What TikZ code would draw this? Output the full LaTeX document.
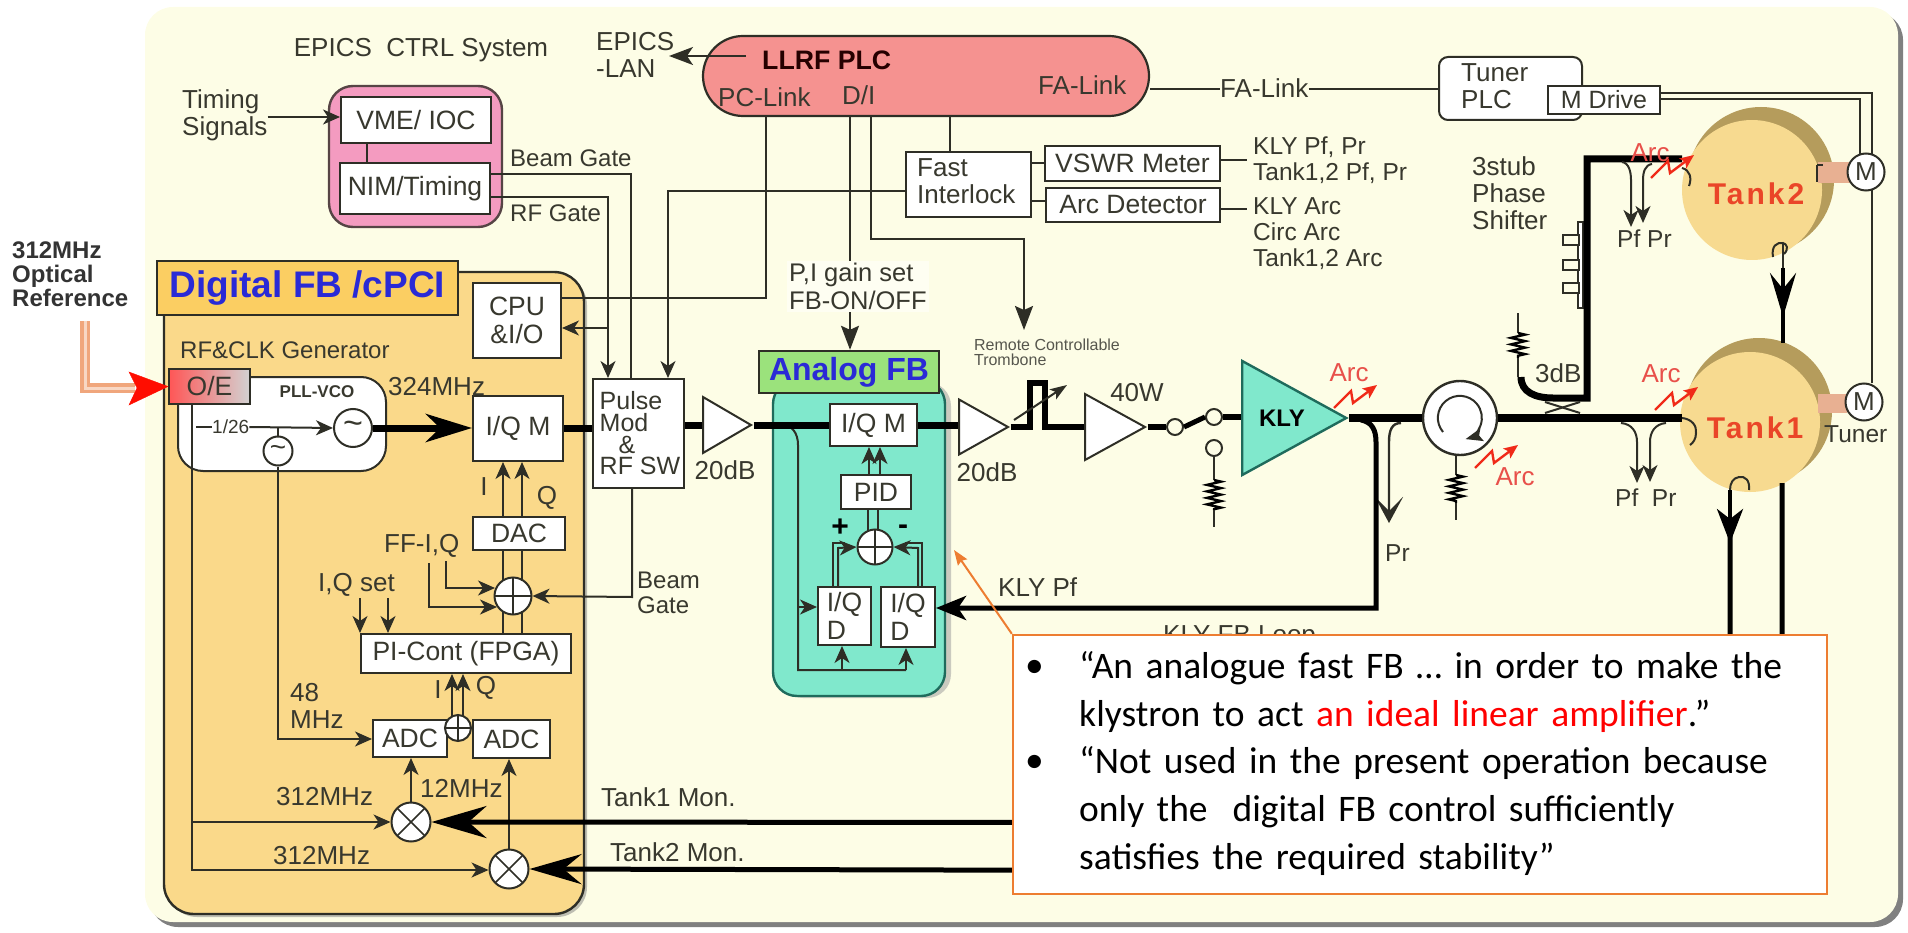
\documentclass[tikz,border=0pt]{standalone}
\usepackage{fontspec}
\setmainfont{Liberation Sans}
\newfontfamily\calloutfont{Carlito}
\newfontfamily\tankfont[LetterSpace=10]{Liberation Sans}
\usetikzlibrary{arrows.meta,decorations.pathmorphing,shapes.geometric,shadows}
\definecolor{panelcol}{HTML}{FDFDE6}
\definecolor{wirecol}{HTML}{2E2E26}
\definecolor{txtcol}{HTML}{38382E}
\definecolor{pinkcol}{HTML}{F49BC0}
\definecolor{plccol}{HTML}{F59290}
\definecolor{digicol}{HTML}{FAD98A}
\definecolor{digitopcol}{HTML}{FBCE62}
\definecolor{analogcol}{HTML}{80E8CC}
\definecolor{greencol}{HTML}{9BE27C}
\definecolor{tealline}{HTML}{1F6B5C}
\definecolor{titleblue}{HTML}{2A2AD6}
\definecolor{tankcol}{HTML}{F7DA90}
\definecolor{tankback}{HTML}{B59C5C}
\definecolor{stubcol}{HTML}{E8B092}
\definecolor{redtxt}{HTML}{E8504A}
\definecolor{tanktxt}{HTML}{EA4528}
\definecolor{boltcol}{HTML}{F02A18}
\definecolor{orangecol}{HTML}{ED7D31}
\definecolor{pipecol}{HTML}{F0A67C}
\tikzset{
  lbl/.style={text=txtcol,inner sep=0pt,font=\fontsize{26}{27}\selectfont,align=left},
  lblsmall/.style={lbl,font=\fontsize{24.5}{26}\selectfont},
  lblred/.style={lbl,text=redtxt},
  blockbox/.style={draw=wirecol,fill=white,line width=2pt,inner sep=0pt,text=txtcol,font=\fontsize{26.5}{28}\selectfont,align=left},
  amp/.style={draw=wirecol,fill=white,line width=2pt,isosceles triangle,isosceles triangle stretches,inner sep=0pt,anchor=west},
  contact/.style={circle,draw=wirecol,fill=panelcol,line width=2pt,minimum size=16pt,inner sep=0pt},
  sumnode/.style={circle,draw=wirecol,fill=white,line width=2pt,inner sep=0pt,minimum size=#1,
    path picture={\draw[wirecol,line width=1.6pt] (path picture bounding box.north)--(path picture bounding box.south) (path picture bounding box.west)--(path picture bounding box.east);}},
  mixnode/.style={circle,draw=wirecol,fill=white,line width=2pt,inner sep=0pt,minimum size=39pt,
    path picture={\draw[wirecol,line width=1.6pt] (path picture bounding box.north west)--(path picture bounding box.south east) (path picture bounding box.south west)--(path picture bounding box.north east);}},
  oscnode/.style={circle,draw=wirecol,fill=white,line width=2pt,inner sep=0pt,minimum size=#1,text=txtcol},
  tankfront/.style={circle,fill=tankcol,minimum size=140pt,inner sep=0pt},
  tankrear/.style={circle,fill=tankback,minimum size=146pt,inner sep=0pt},
  wire/.style={draw=wirecol,line width=2pt},
  wirearrow/.style={wire,-{Stealth[length=17pt,width=15pt,inset=5pt]}},
  feed/.style={draw=black,line width=7pt},
  monfeed/.style={draw=black,line width=5pt},
  bigarrow/.style={-{Stealth[length=#1,width=28pt,inset=14pt]}},
  resist/.style={draw=black,line width=2.4pt,decorate,decoration={zigzag,amplitude=7pt,segment length=6.5pt}},
  boltline/.style={draw=boltcol,line width=2.4pt,-{Stealth[length=14pt,width=12pt,inset=3pt]}}
}
\begin{document}
\begin{tikzpicture}[x=1pt,y=-1pt]
\useasboundingbox (0,0) rectangle (1908,933);
\node[draw=none,fill=panelcol,rounded corners=28pt,minimum width=1753pt,minimum height=915pt,
  drop shadow={shadow xshift=5pt,shadow yshift=-5pt,fill=gray,opacity=1}] (panel) at (1021.5,464.5) {};

\node[lbl] (ctrltitle) at (421,50) {EPICS\ \ CTRL System};
\node[lbl,anchor=west] (timinglbl) at (182,115) {Timing\\Signals};
\node[draw=wirecol!80!pinkcol,fill=pinkcol,line width=2.4pt,rounded corners=24pt,minimum width=173pt,minimum height=141pt] (epicsbox) at (415.5,156.5) {};
\node[blockbox,minimum width=150pt,minimum height=46pt] (vme) at (416,120) {VME/ IOC};
\node[blockbox,minimum width=150pt,minimum height=51pt] (nim) at (415,188.5) {NIM/Timing};
\draw[wire] (367,143) -- (367,163);
\draw[wirearrow] (timinglbl.east |- 0,117) -- (vme.west |- 0,117);
\node[lbl,font=\fontsize{24}{26}\selectfont,anchor=west] (beamlbl) at (510,158) {Beam Gate};
\node[lbl,font=\fontsize{24}{26}\selectfont,anchor=west] (rflbl) at (510,213) {RF Gate};

\node[lbl,anchor=west] (lanlbl) at (596,54.5) {EPICS\\-LAN};
\node[draw=wirecol,fill=plccol,line width=2.2pt,rounded corners=40pt,minimum width=446pt,minimum height=80pt] (plc) at (926,76) {};
\node[lbl,anchor=west,font=\bfseries\fontsize{26.7}{28}\selectfont,text=black!85!red] (plclbl) at (762,60) {LLRF PLC};
\node[lbl,anchor=west] (pclink) at (718,97) {PC-Link};
\node[lbl,anchor=west] (dilbl) at (842,95) {D/I};
\node[lbl,anchor=west] (falink) at (1038,85) {FA-Link};
\coordinate (plcarrow) at (746,56);
\coordinate (lanend) at (669,56);
\draw[wire,-{Stealth[length=24pt,width=18pt,inset=6pt]}] (plcarrow) -- (lanend);

\node[lbl,anchor=west] (falinkout) at (1220,88) {FA-Link};
\node[draw=wirecol,fill=white,line width=2pt,rounded corners=9pt,minimum width=143pt,minimum height=63pt] (tunerplc) at (1510.5,88.5) {};
\node[lbl,anchor=west] (tunerlbl) at (1461,86) {Tuner\\PLC};
\node[blockbox,minimum width=112pt,minimum height=28pt,font=\fontsize{25}{27}\selectfont] (mdrive) at (1604,100) {M Drive};
\draw[wire] (plc.east |- 0,89) -- (falinkout.west |- 0,89);
\draw[wire] (falinkout.east |- 0,89) -- (tunerplc.west |- 0,89);

\node[blockbox,minimum width=125pt,minimum height=65pt] (fast) at (968.5,184.5) {};
\node[lbl,anchor=west] (fastlbl) at (917,181.5) {Fast\\Interlock};
\node[blockbox,minimum width=175pt,minimum height=35pt,align=center] (vswr) at (1132.5,163.5) {VSWR Meter};
\node[blockbox,minimum width=174pt,minimum height=34pt,align=center] (arcdet) at (1133,205) {Arc Detector};
\node[lblsmall,anchor=west] (vswrlbl) at (1253,160) {KLY Pf, Pr\\Tank1,2 Pf, Pr};
\node[lblsmall,anchor=west] (arclbl) at (1253,234) {KLY Arc\\Circ Arc\\Tank1,2 Arc};
\draw[wire] (fast.east |- 0,163) -- (vswr.west |- 0,163);
\draw[wire] (fast.east |- 0,201) -- (arcdet.west |- 0,201);
\draw[wire] (vswr.east |- 0,160) -- (1247,160);
\draw[wire] (arcdet.east |- 0,209) -- (1247,209);
\draw[wire] (950,116) -- (950,152);

\node[lbl,font=\bfseries\fontsize{24}{24}\selectfont,anchor=west,text=black!80] (opticlbl) at (12,274) {312MHz\\Optical\\Reference};
\coordinate (pipetop) at (85,321);
\coordinate (pipeend) at (135,388);
\draw[draw=pipecol,line width=10pt] (pipetop) |- (pipeend);
\draw[draw=pipecol!45!white,line width=3pt] (pipetop) |- (pipeend);

\node[draw=wirecol,fill=digicol,line width=2.4pt,rounded corners=30pt,minimum width=420pt,minimum height=642pt,
  drop shadow={shadow xshift=3pt,shadow yshift=-3pt,fill=gray}] (digibody) at (374,593) {};
\node[draw=wirecol,fill=digitopcol,line width=2.4pt,minimum width=301pt,minimum height=54pt,inner sep=0pt,font=\bfseries\fontsize{37}{38}\selectfont,text=titleblue] (digititle) at (307.5,288) {Digital FB /cPCI};
\node[lbl,font=\fontsize{24}{26}\selectfont,anchor=west] (rfclk) at (180,350) {RF\&CLK Generator};
\node[blockbox,rounded corners=25pt,minimum width=208pt,minimum height=94pt] (pll) at (282,424) {};
\node[draw=wirecol,line width=2pt,left color=red!55!pink,right color=gray!35,minimum width=81pt,minimum height=35pt,inner sep=0pt,text=txtcol,font=\fontsize{26.5}{28}\selectfont] (oe) at (209.5,386.5) {O/E};
\node[lbl,font=\bfseries\fontsize{17}{18}\selectfont] (pllvco) at (317,392) {PLL-VCO};
\node[lbl,font=\fontsize{19}{20}\selectfont,anchor=west] (divlbl) at (212,427) {1/26};
\node[oscnode=38pt,font=\fontsize{34}{34}\selectfont] (vco) at (353,428) {\textasciitilde};
\node[oscnode=29pt,font=\fontsize{28}{28}\selectfont] (refosc) at (278,451) {\textasciitilde};
\node[lbl,anchor=west] (mhz324) at (388,387) {324MHz};
\coordinate (divstart) at (196,427);
\draw[wire] (divstart) -- (divlbl.west);
\draw[wirearrow] (divlbl.east) -- (vco.west);
\draw[wire] (refosc.north) -- (refosc.north |- vco.west);
\draw[draw=red!90!orange,fill=red!90!orange] (129,372) -- (oe.west) -- (129,405) -- (137,388) -- cycle;

\node[blockbox,minimum width=88pt,minimum height=75pt,align=center] (cpu) at (517,320.5) {CPU\\\&I/O};
\node[blockbox,minimum width=90pt,minimum height=65pt] (iqm) at (518,428.5) {I/Q M};
\node[blockbox,minimum width=92pt,minimum height=33pt] (dac) at (519,533.5) {DAC};
\node[sumnode=37pt] (sumiq) at (513,596) {};
\node[blockbox,minimum width=210pt,minimum height=39pt] (picont) at (466,653.5) {PI-Cont (FPGA)};
\node[blockbox,minimum width=74pt,minimum height=37pt] (adca) at (410,738.5) {ADC};
\node[blockbox,minimum width=77pt,minimum height=38pt] (adcb) at (511.5,739) {ADC};
\node[sumnode=26pt] (sumadc) at (458,728) {};
\node[mixnode] (mixa) at (411,822) {};
\node[mixnode] (mixb) at (509,869) {};
\node[lbl] (ilbl) at (484,487) {I};
\node[lbl] (qlbl) at (547,498) {Q};
\node[lbl,anchor=west] (ffiq) at (384,546) {FF-I,Q};
\node[lbl,anchor=west] (iqset) at (318,585) {I,Q set};
\node[lbl] (ilblb) at (438,690) {I};
\node[lbl] (qlblb) at (486,688) {Q};
\node[lbl,anchor=west] (mhz48) at (290,706) {48\\MHz};
\node[lbl,anchor=west] (mhz12) at (420,788) {12MHz};
\node[lbl,anchor=west] (mhz312a) at (276,797) {312MHz};
\node[lbl,anchor=west] (mhz312b) at (273,856) {312MHz};
\node[lbl,anchor=west] (tankmona) at (601,797) {Tank1 Mon.};
\node[lbl,anchor=west] (tankmonb) at (610,852) {Tank2 Mon.};

\node[blockbox,minimum width=91pt,minimum height=109pt,anchor=north west,font=\fontsize{25}{21.7}\selectfont] (pulse) at (592,378) {\hspace*{3pt}Pulse\\\hspace*{3pt}Mod\\\hspace*{22pt}\&\\\hspace*{3pt}RF SW};
\node[lbl,font=\fontsize{24}{25}\selectfont,anchor=west] (beamgatelbl) at (637,593) {Beam\\Gate};
\draw[wire] (nim.east |- 0,174) -- (631,174) -- (pulse.north -| 631,0);
\draw[wirearrow] (nim.east |- 0,197) -- (608,197) -- (pulse.north -| 608,0);
\draw[wirearrow] (608,328) -- (cpu.east |- 0,328);
\draw[wire] (cpu.east |- 0,298) -- (766,298) -- (766,116);
\draw[wirearrow] (fast.west |- 0,191) -- (668,191) -- (pulse.north -| 668,0);

\draw[wire] (oe.south -| 192,0) -- (192,870) -- (mixb.west |- 0,870) [wirearrow];
\draw[wirearrow] (192,822) -- (mixa.west);
\draw[wire] (refosc.south) -- (278,739) [wirearrow] -- (adca.west |- 0,739);
\draw[feed,bigarrow=46pt] (vco.east) -- (iqm.west |- vco.east);
\draw[feed] (iqm.east) -- (pulse.west |- iqm.east);
\draw[wirearrow] (dac.north -| 503,0) -- (iqm.south -| 503,0);
\draw[wirearrow] (dac.north -| 522,0) -- (iqm.south -| 522,0);
\draw[wire] (dac.south -| 503,0) -- (503,581);
\draw[wire] (dac.south -| 522,0) -- (522,581);
\draw[wire] (503,611) -- (picont.north -| 503,0);
\draw[wire] (522,611) -- (picont.north -| 522,0);
\draw[wirearrow] (446,561) -- (446,588) -- (495,588);
\draw[wirearrow] (429,563) -- (429,607) -- (497,607);
\draw[wirearrow] (pulse.south -| 632,0) -- (632,597) -- (sumiq.east);
\draw[wirearrow] (360,598) -- (picont.north -| 360,0);
\draw[wirearrow] (388,598) -- (picont.north -| 388,0);
\draw[wirearrow] (452,716) -- (picont.south -| 452,0);
\draw[wirearrow] (463,716) -- (picont.south -| 463,0);
\draw[wirearrow] (mixa.north) -- (adca.south -| mixa.north);
\draw[wirearrow] (mixb.north) -- (adcb.south -| mixb.north);

\node[draw=tealline,fill=analogcol,line width=2.4pt,rounded corners=24pt,minimum width=172pt,minimum height=316pt,
  drop shadow={shadow xshift=6pt,shadow yshift=-2pt,fill=gray!80}] (analogbody) at (859,538) {};
\node[draw=wirecol,fill=greencol,line width=2.4pt,minimum width=180pt,minimum height=42pt,inner sep=0pt,font=\bfseries\fontsize{32}{33}\selectfont,text=titleblue] (analogtitle) at (849,372) {Analog FB};
\node[blockbox,minimum width=87pt,minimum height=42pt] (afbiqm) at (873.5,425) {I/Q M};
\node[blockbox,minimum width=70pt,minimum height=34pt] (pid) at (876,492) {PID};
\node[sumnode=35pt] (sumfb) at (875,547) {};
\node[blockbox,minimum width=53pt,minimum height=58pt] (iqda) at (844.5,616) {I/Q\\D};
\node[blockbox,minimum width=54pt,minimum height=60pt] (iqdb) at (908,617) {I/Q\\D};
\node[lbl,font=\bfseries\fontsize{30}{30}\selectfont,text=black] (plusmark) at (840,528) {+};
\node[lbl,font=\bfseries\fontsize{30}{30}\selectfont,text=black] (minusmark) at (903,530) {-};
\draw[wire] (782,425) .. controls (792,425) and (798,433) .. (798,445) -- (798,670) -- (906,670);
\draw[wirearrow] (798,607) -- (iqda.west |- 0,607);
\draw[wirearrow] (842,670) -- (iqda.south -| 842,0);
\draw[wirearrow] (906,670) -- (iqdb.south -| 906,0);
\draw[wirearrow] (pid.north -| 869,0) -- (afbiqm.south -| 869,0);
\draw[wirearrow] (pid.north -| 880,0) -- (afbiqm.south -| 880,0);
\draw[wire] (pid.south -| 868,0) -- (868,531);
\draw[wire] (pid.south -| 878,0) -- (878,530);
\draw[wire] (iqda.north -| 833,0) -- (833,543) -- (845,543);
\draw[wirearrow] (iqda.north -| 838,0) -- (838,548) -- (sumfb.west);
\draw[wire] (iqdb.north -| 922,0) -- (922,543) -- (905,543);
\draw[wirearrow] (iqdb.north -| 918,0) -- (918,548) -- (sumfb.east);

\node[amp,minimum height=48pt,minimum width=56pt] (ampa) at (702,425) {};
\node[amp,minimum height=49pt,minimum width=55pt] (ampb) at (958,427) {};
\node[amp,minimum height=60pt,minimum width=66pt] (ampc) at (1084,427) {};
\node[amp,draw=tealline,fill=analogcol,line width=2.4pt,minimum height=104pt,minimum width=114pt] (kly) at (1241,418) {};
\node[lbl,font=\bfseries\fontsize{24}{26}\selectfont,text=black] (klylbl) at (1282,418) {KLY};
\node[lbl] (dba) at (725,470) {20dB};
\node[lbl] (dbb) at (987,472) {20dB};
\node[lbl] (w40) at (1137,393) {40W};
\draw[feed] (pulse.east |- ampa.west) -- (ampa.west);
\draw[feed] (ampa.east) -- (afbiqm.west);
\draw[feed] (afbiqm.east) -- (ampb.west |- afbiqm.east);
\draw[feed,line width=5.5pt] (ampb.east) -- (1030,427) -- (1030,383) -- (1045,383) -- (1045,427) -- (ampc.west);
\draw[wire,-{Stealth[length=17pt,width=12pt,inset=4pt]}] (1014,420) -- (1067,385);
\node[lbl,font=\fontsize{16}{15}\selectfont,text=txtcol!85] (trombonelbl) at (1047,352.5) {Remote Controllable\\Trombone};

\node[contact] (swa) at (1175,427) {};
\node[contact] (swb) at (1214,417) {};
\node[contact] (swc) at (1214,448) {};
\draw[feed,line width=5.5pt] (ampc.east) -- (swa.west);
\draw[feed,line width=5pt] (swa.east) -- (swb.west);
\draw[feed,line width=5.5pt] (swb.east) -- (kly.west |- swb.east);

\foreach \rx/\ra/\rb/\rc/\rd in {1214/456/480/510/527,1456/455/475/503/520,1518/313/333/358/377}
  {\draw[wire] (\rx,\ra) -- (\rx,\rb);
   \draw[resist] (\rx,\rb) -- (\rx,\rc);
   \draw[wire] (\rx,\rc) -- (\rx,\rd);}

\node[tankrear] (tankbackb) at (1761,180) {};
\node[tankfront] (tankb) at (1752,190) {};
\node[tankrear] (tankbacka) at (1759,411) {};
\node[tankfront] (tanka) at (1750,422) {};
\node[lbl,font=\tankfont\bfseries\fontsize{30}{30}\selectfont,text=tanktxt] (tankbtxt) at (1756,194) {Tank2};
\node[lbl,font=\tankfont\bfseries\fontsize{30}{30}\selectfont,text=tanktxt] (tankatxt) at (1755,428) {Tank1};

\node[circle,draw=wirecol,fill=white,line width=2.4pt,minimum size=74pt,inner sep=0pt] (circ) at (1460,418) {};
\draw[wire,-{Stealth[length=17pt,width=13pt,inset=3pt]}] (1443,432) arc[start angle=220,end angle=-75,radius=22pt];
\draw[feed,line width=8pt] (kly.east) -- (circ.west);
\draw[feed,line width=8pt] (circ.east) -- (1682,418);

\coordinate (pflinea) at (1401,423);
\draw[wire,line width=2.4pt,bigarrow=26pt] (pflinea) .. controls (1392,423) and (1389,430) .. (1389,442) -- (1389,523);
\draw[feed,line width=5pt,-{Stealth[length=30pt,width=24pt,inset=8pt]}] (1361,420) .. controls (1372,422) and (1376,430) .. (1376,442) -- (1376,608) -- (iqdb.east |- 0,608);
\node[lblsmall,anchor=west] (prlbl) at (1385,553) {Pr};
\node[lbl,anchor=west] (klypf) at (998,587) {KLY Pf};
\node[lbl,anchor=west] (klyloop) at (1163,637) {KLY FB Loop};

\node[lbl,anchor=west] (stublbl) at (1472,193) {3stub\\Phase\\Shifter};
\node[lbl,anchor=west] (db3) at (1535,373) {3dB};
\node[draw=wirecol,fill=white,line width=1.5pt,minimum width=5pt,minimum height=86pt,inner sep=0pt] (stubbar) at (1580.5,265) {};
\foreach \sy/\sname in {240/stuba,265/stubb,288/stubc}
  \node[draw=wirecol,fill=panelcol,line width=2pt,minimum width=16pt,minimum height=10pt,inner sep=0pt] (\sname) at (1571,\sy) {};
\coordinate (couplerstart) at (1521,377);
\coordinate (tankbfeed) at (1682,159);
\draw[feed] (couplerstart) .. controls (1521,392) and (1535,398) .. (1553,398) -- (1587,398) -- (1587,159) -- (tankbfeed);
\draw[wire] (1545,413) -- (1580,402);
\draw[wire] (1545,402) -- (1580,413);

\draw[wirearrow] (1622,162) .. controls (1629,163) and (1631,172) .. (1631,180) -- (1631,227);
\draw[wirearrow] (1652,164) .. controls (1645,165) and (1643,172) .. (1643,180) -- (1643,223);
\node[lblsmall,anchor=west] (pfprb) at (1617,239) {Pf Pr};
\draw[wirearrow] (1621,423) .. controls (1632,424) and (1637,432) .. (1637,442) -- (1637,483);
\draw[wirearrow] (1666,423) .. controls (1655,424) and (1650,432) .. (1650,442) -- (1650,482);
\node[lblsmall,anchor=west] (pfpra) at (1615,498) {Pf\ \ Pr};

\node[lblred] (arcb) at (1650,153) {Arc};
\node[lblred] (arca) at (1661,374) {Arc};
\node[lblred] (arcc) at (1515,477) {Arc};
\node[lblred] (arcd) at (1349,373) {Arc};
\foreach \bx/\by in {1334/408,1655/410,1651/178,1475/468}
  \draw[boltline] (\bx,\by) -- ++(17,-17) -- ++(2,12) -- ++(24,-18);

\draw[wire] (1682,418) .. controls (1692,419) and (1697,426) .. (1696,433) .. controls (1696,439) and (1693,443) .. (1690,445);
\draw[wire] (1682,168) .. controls (1690,170) and (1692,178) .. (1689,186);
\draw[wire] (1773,257) .. controls (1771,246) and (1777,242) .. (1783,243) .. controls (1787,244) and (1789,249) .. (1784,254);
\draw[wire,line width=2.4pt] (1783,243) -- (1783,270);
\draw[feed,line width=4pt,-{Stealth[length=44pt,width=26pt,inset=16pt]}] (1783,268) -- (1783,317);
\draw[feed,line width=4pt] (1783,310) -- (1783,343);
\draw[wire] (1749,490) .. controls (1750,480) and (1745,476) .. (1739,477) .. controls (1733,478) and (1730,483) .. (1730,490);
\coordinate (tankamon) at (1730,490);
\draw[feed,line width=4pt,-{Stealth[length=34pt,width=26pt,inset=10pt]}] (tankamon) -- (1730,543);
\draw[monfeed,-{Stealth[length=55pt,width=32pt,inset=18pt]}] (1730,535) -- (1730,823) -- (mixa.east);
\coordinate (tankbmon) at (1782,483);
\draw[monfeed,-{Stealth[length=52pt,width=30pt,inset=18pt]}] (tankbmon) -- (1782,872) -- (mixb.east);

\node[draw=stubcol,fill=stubcol,minimum width=32pt,minimum height=20pt,inner sep=0pt] (stubtunerb) at (1834,172) {};
\node[draw=stubcol,fill=stubcol,minimum width=28pt,minimum height=18pt,inner sep=0pt] (stubtunera) at (1832,403) {};
\node[oscnode=37pt,font=\fontsize{26}{27}\selectfont] (motorb) at (1866,172) {M};
\node[oscnode=37pt,font=\fontsize{26}{27}\selectfont] (motora) at (1864,402) {M};
\draw[wire] (mdrive.east |- 0,93) -- (1872,93) -- (1872,154);
\draw[wire] (1872,190) -- (motora.north -| 1872,0);
\draw[wire] (mdrive.east |- 0,99) -- (1860,99) -- (1860,155);
\draw[wire] (1817,165) -- (1817,182);
\draw[wire] (1817,165) -- (1823,165);
\node[lblsmall,anchor=west] (tuneralbl) at (1824,434) {Tuner};

\node[lbl,fill=panelcol!50!white,inner sep=2pt,anchor=west,font=\fontsize{25.5}{28}\selectfont] (gainlbl) at (787,286.5) {P,I gain set\\FB-ON/OFF};
\draw[wire] (850,116) -- (gainlbl.north -| 850,0);
\draw[wire,-{Stealth[length=24pt,width=18pt,inset=4pt]}] (gainlbl.south -| 850,0) -- (analogtitle.north -| 850,0);
\coordinate (trombonearrow) at (1024,330);
\draw[wire,-{Stealth[length=24pt,width=18pt,inset=4pt]}] (871,116) -- (871,239) -- (1024,239) -- (trombonearrow);

\node[draw=orangecol,fill=white,line width=2.4pt,minimum width=814pt,minimum height=259pt] (callout) at (1420,764.5) {};
\coordinate (analogedge) at (954,550);
\draw[draw=orangecol,line width=2pt,-{Stealth[length=15pt,width=11pt,inset=2pt]}] (callout.north west) -- (analogedge);
\node[inner sep=0pt,anchor=north west,text width=730pt,align=left,font=\calloutfont\fontsize{37.5}{48}\selectfont] (quotea) at (1079,651) {“An analogue fast FB … in order to make the\\klystron to act \textcolor{red}{an ideal linear amplifier}.”};
\node[inner sep=0pt,anchor=north west,text width=730pt,align=left,font=\calloutfont\fontsize{37.5}{48}\selectfont] (quoteb) at (1079,746) {“Not used in the present operation because\\only the\ \ digital FB control sufficiently\\satisfies the required stability”};
\node[inner sep=0pt,anchor=north west,font=\calloutfont\fontsize{37.5}{48}\selectfont] (bulleta) at (1025,660) {•};
\node[inner sep=0pt,anchor=north west,font=\calloutfont\fontsize{37.5}{48}\selectfont] (bulletb) at (1025,755) {•};
\end{tikzpicture}
\end{document}
